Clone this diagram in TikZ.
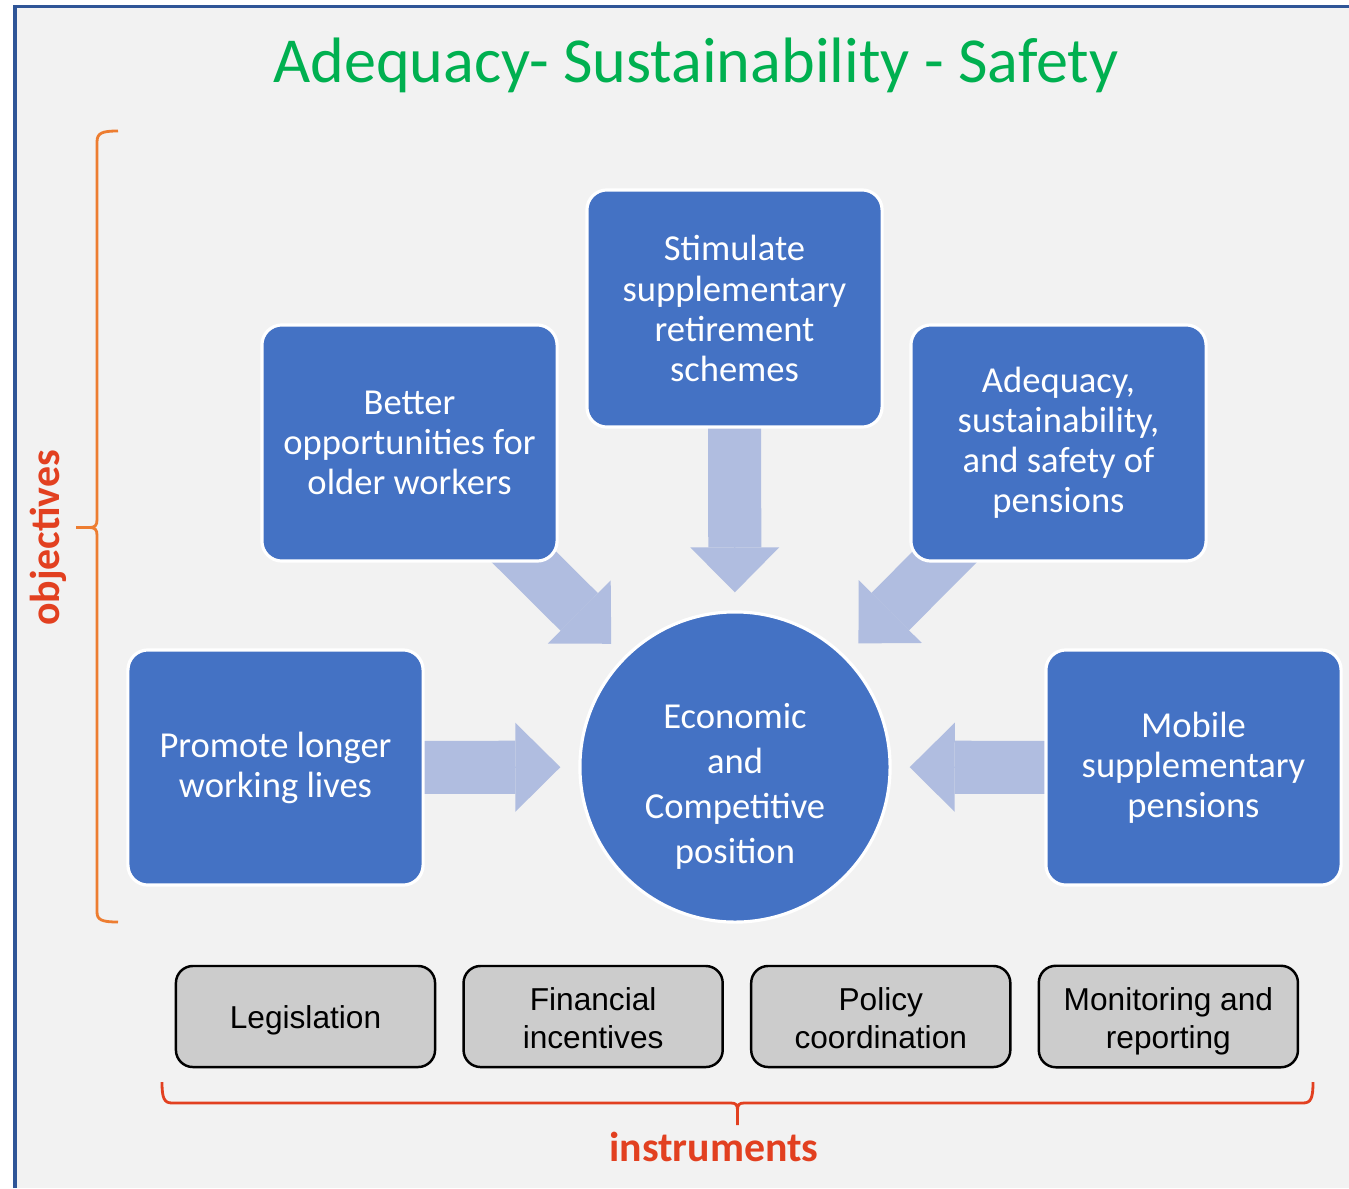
\documentclass[tikz,border=0pt]{standalone}
\usepackage{fontspec}
\setmainfont{Carlito}
\newfontfamily\arialfont{Liberation Sans}
\usepackage{tikz}
\usetikzlibrary{positioning,arrows.meta,backgrounds}
\usepackage{xcolor}
\definecolor{boxblue}{RGB}{68,114,196}
\definecolor{feedblue}{RGB}{176,189,224}
\definecolor{frameblue}{RGB}{47,85,151}
\definecolor{pagegray}{RGB}{242,242,242}
\definecolor{toolgray}{RGB}{204,204,204}
\definecolor{titlegreen}{RGB}{0,176,80}
\definecolor{labelred}{RGB}{226,64,32}
\definecolor{braceorange}{RGB}{237,125,49}

\begin{document}
\begin{tikzpicture}[
                x=0.01cm, y=-0.01cm,
                node distance=0.26cm,
                goal/.style={draw=white, line width=0.9pt, fill=boxblue, rounded corners=0.2cm, text=white, minimum width=2.95cm, minimum height=2.36cm, align=center, inner sep=0pt, font=\fontsize{10.4}{11.4}\selectfont},
                hub/.style={circle, draw=white, line width=0.9pt, fill=boxblue, text=white, minimum size=3.1cm, align=center, inner sep=0pt, font=\fontsize{10.4}{12.8}\selectfont},
                tool/.style={draw=black, line width=0.7pt, fill=toolgray, rounded corners=0.17cm, minimum width=2.59cm, minimum height=1.01cm, align=center, font=\arialfont\fontsize{9}{10.8}\selectfont},
                feed/.style={draw=feedblue, line width=0.53cm, shorten >=0.18cm, -{Triangle[length=0.45cm, width=0.89cm, line width=0pt]},
                    preaction={draw=feedblue, arrows=-, shorten >=0.58cm}},
                tag/.style={text=labelred, font=\bfseries\fontsize{11.9}{14}\selectfont}
            ]
                \useasboundingbox (0,0) rectangle (1349,1188);

                % Title
                \node[text=titlegreen, font=\fontsize{18.25}{22}\selectfont, anchor=base] (title) at (696,83) {Adequacy- Sustainability - Safety};

                % Centre and objectives around it
                \node[hub] (econ) at (735,767) {\rule{0pt}{0.63cm}Economic\\and\\Competitive\\position};
                \node[goal, minimum height=2.37cm] (stim) at (734.5,308.5) {Stimulate\\supplementary\\retirement\\schemes};
                \node[goal] (better) at (409.5,443) {Better\\opportunities for\\older workers};
                \node[goal] (adeq) at (1058.5,443) {Adequacy,\\sustainability,\\and safety of\\pensions};
                \node[goal, minimum height=2.35cm] (promote) at (275.5,767.5) {Promote longer\\working lives};
                \node[goal, minimum height=2.35cm] (mobile) at (1193.5,767.5) {Mobile\\supplementary\\pensions};

                % Instruments row
                \node[tool] (legis) at (305.5,1016.5) {\rule{0pt}{0.3cm}Legislation};
                \node[tool, right=of legis] (fin) {\rule{0pt}{0.265cm}Financial\\incentives};
                \node[tool, right=of fin] (policy) {\rule{0pt}{0.265cm}Policy\\coordination};
                \node[tool, right=of policy] (monitor) {\rule{0pt}{0.335cm}Monitoring and\\reporting};

                % Braces and their labels
                \draw[braceorange, line width=0.8pt] (118,131) .. controls (102,131) and (97,133) .. (97,142) -- (97,520) .. controls (97,525) and (95,527.5) .. (90,527.5) -- (76,527.5) -- (90,527.5) .. controls (95,527.5) and (97,530) .. (97,535) -- (97,912) .. controls (97,920) and (102,922) .. (118,922);
                \node[tag, anchor=base, rotate=90] (obj) at (59,538) {objectives};

                \draw[labelred, line width=0.8pt] (162,1082) .. controls (162,1098) and (164,1103) .. (172,1103) -- (731,1103) .. controls (736,1103) and (737.5,1105) .. (737.5,1110) -- (737.5,1125) -- (737.5,1110) .. controls (737.5,1105) and (739,1103) .. (744,1103) -- (1303,1103) .. controls (1311,1103) and (1313,1098) .. (1313,1082);
                \node[tag, anchor=base] (instr) at (714,1161) {instruments};

                % Page and feeding arrows, kept under the boxes
                \begin{pgfonlayer}{background}
                    \fill[pagegray] (15,6.5) rectangle (1349,1188);
                    \draw[frameblue, line width=1pt] (15,1188) -- (15,6.5) -- (1349,6.5);
                    \draw[feed] (stim.center) -- (econ);
                    \draw[feed] (better.center) -- (econ);
                    \draw[feed] (adeq.center) -- (econ);
                    \draw[feed] (promote.center) -- (econ);
                    \draw[feed] (mobile.center) -- (econ);
                \end{pgfonlayer}
            \end{tikzpicture}
\end{document}
